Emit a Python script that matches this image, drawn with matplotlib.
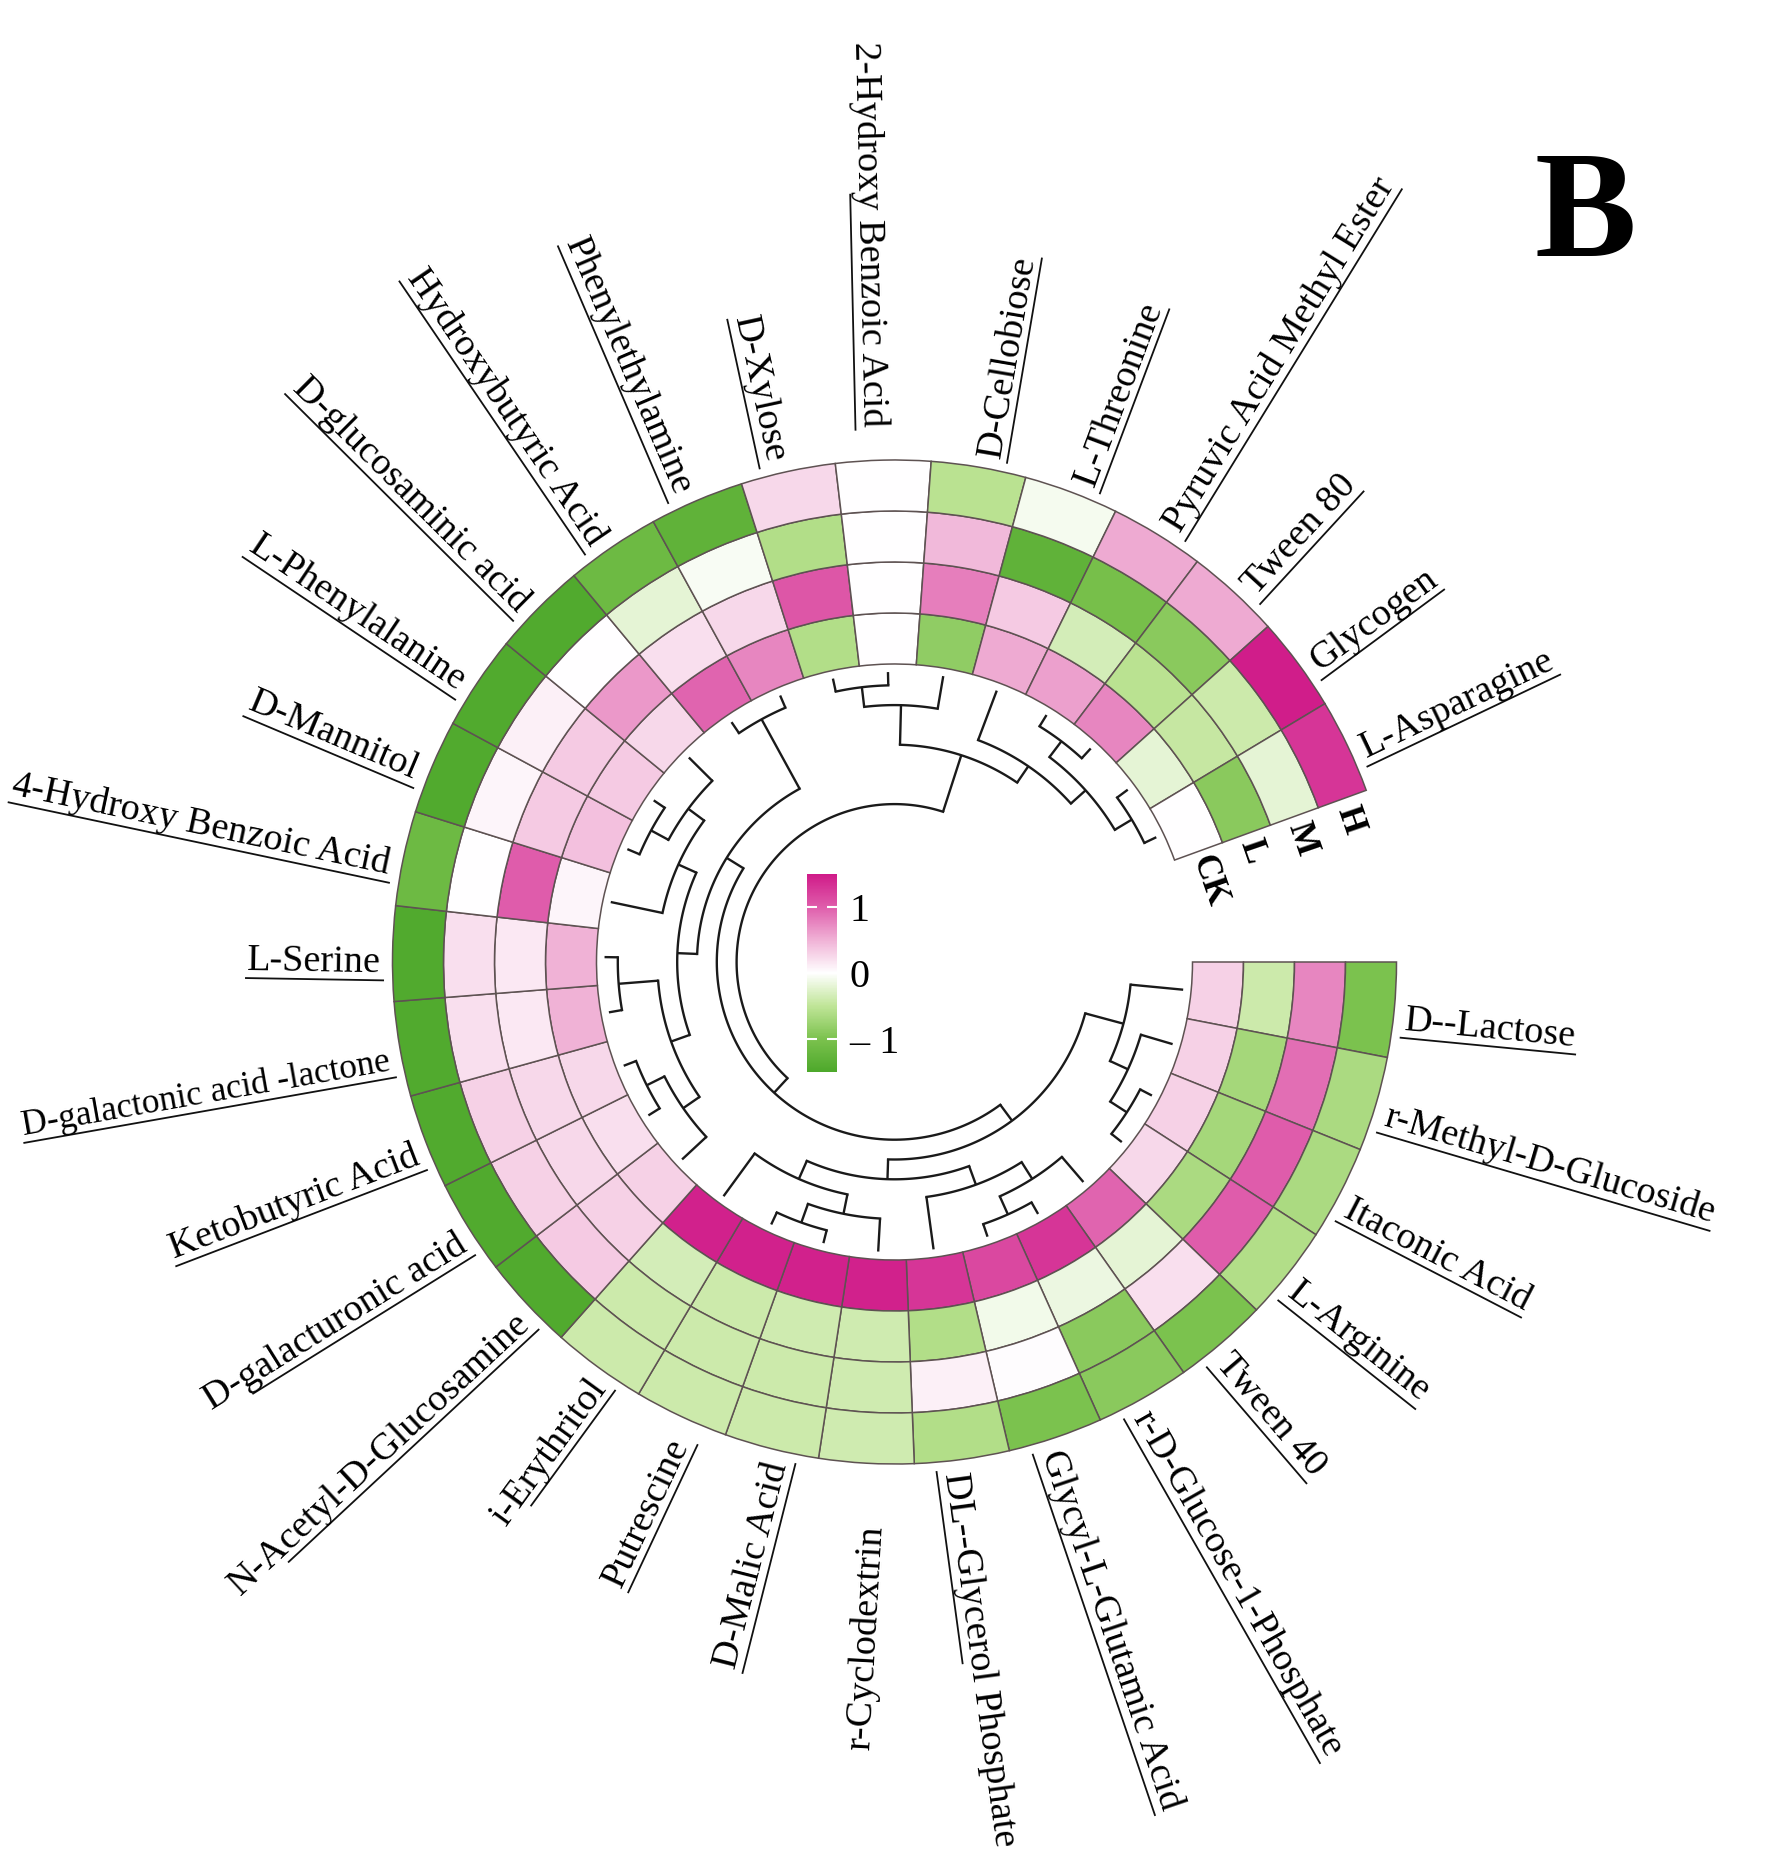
import numpy as np
import matplotlib
matplotlib.use("Agg")
import matplotlib.pyplot as plt
from matplotlib.colors import LinearSegmentedColormap, Normalize
from matplotlib.cm import ScalarMappable
from matplotlib.textpath import TextPath
from matplotlib.font_manager import FontProperties

plt.rcParams['font.family'] = ['Liberation Serif', 'DejaVu Serif']

# carbon sources, clockwise from the gap
substrates = ["D--Lactose", "r-Methyl-D-Glucoside", "Itaconic Acid", "L-Arginine",
              "Tween 40", "r-D-Glucose-1-Phosphate", "Glycyl-L-Glutamic Acid",
              "DL--Glycerol Phosphate", "r-Cyclodextrin", "D-Malic Acid", "Putrescine",
              "i-Erythritol", "N-Acetyl-D-Glucosamine", "D-galacturonic acid",
              "Ketobutyric Acid", "D-galactonic acid -lactone", "L-Serine",
              "4-Hydroxy Benzoic Acid", "D-Mannitol", "L-Phenylalanine",
              "D-glucosaminic acid", "Hydroxybutyric Acid", "Phenylethylamine",
              "D-Xylose", "2-Hydroxy Benzoic Acid", "D-Cellobiose", "L-Threonine",
              "Pyruvic Acid Methyl Ester", "Tween 80", "Glycogen", "L-Asparagine"]
groups = ["CK", "L", "M", "H"]

# scaled values, one list per ring (inner -> outer)
ck = [0.3, 0.3, 0.3, 0.25, 0.95, 1.3, 1.15, 1.3, 1.45, 1.45, 1.45, 1.45, 0.3, 0.2, 0.25, 0.5,
      0.5, 0.07, 0.4, 0.35, 0.25, 0.95, 0.75, -0.6, 0.0, -0.85, 0.55, 0.6, 0.75, -0.2, 0.0]
low = [-0.4, -0.7, -0.7, -0.65, -0.2, -0.15, -0.1, -0.6, -0.38, -0.38, -0.4, -0.35, 0.3, 0.25,
       0.25, 0.15, 0.15, 1.0, 0.35, 0.35, 0.65, 0.2, 0.25, 1.05, 0.0, 0.8, 0.35, -0.35, -0.55,
       -0.45, -0.9]
mid = [0.75, 0.9, 1.0, 1.0, 0.2, -0.9, 0.02, 0.1, -0.38, -0.4, -0.4, -0.4, 0.35, 0.3, 0.3, 0.2,
       0.2, 0.0, 0.07, 0.1, 0.0, -0.2, -0.05, -0.6, 0.0, 0.45, -1.3, -1.05, -0.9, -0.4, -0.2]
high = [-1.0, -0.65, -0.65, -0.6, -1.0, -0.9, -1.0, -0.6, -0.38, -0.4, -0.4, -0.4, -1.45, -1.45,
        -1.45, -1.45, -1.45, -1.15, -1.45, -1.45, -1.45, -1.15, -1.3, 0.25, 0.0, -0.55, -0.08,
        0.55, 0.55, 1.48, 1.3]

# clustering of the substrates (indices into substrates)
tree = ((((23, 24), 25), (26, ((27, 28), (29, 30)))),
        (((21, 22), (((20, (18, 19)), 17), ((15, 16), ((13, 14), 12)))),
         ((0, (1, (2, 3))), ((11, (8, (9, 10))), (7, (4, (5, 6)))))))

cbar_ticks = [-1, 0, 1]
cbar_labels = ["\u2013 1", "0", "1"]

# ---- layout (pixels) ----
W, H = 1775, 1864
CX, CY = 894.5, 962
RMAX = 700
R_IN, RING_W = 298, 51
R_TIP = 290
R_NODE0, NODE_STEP = 296.5, 19.8
GAP = 20.0
R_LABEL = 514
D_BASE, D_UL = 19, 27
FS = 27.5

underline_part = {"DL--Glycerol Phosphate": 0.5, "r-Cyclodextrin": 0.0, "i-Erythritol": 0.8,
                  "2-Hydroxy Benzoic Acid": 0.6, "N-Acetyl-D-Glucosamine": 0.85,
                  "D-galacturonic acid": 0.85}
label_shift = {"r-Cyclodextrin": 50, "Putrescine": 10, "2-Hydroxy Benzoic Acid": 22}
label_size = {"D-galactonic acid -lactone": 25.5}

cmap = LinearSegmentedColormap.from_list(
    "gw_m", ["#4DA82B", "#7CC24E", "#C0E598", "#FFFFFF", "#F0B2D6", "#DF5DAB", "#D01B89"])
norm = Normalize(-1.5, 1.5)

fig = plt.figure(figsize=(W / 100, H / 100), dpi=100)
ax = fig.add_axes([(CX - RMAX) / W, 1 - (CY + RMAX) / H, 2 * RMAX / W, 2 * RMAX / H],
                  projection='polar')
ax.set_theta_zero_location('E')
ax.set_theta_direction(-1)
ax.set_ylim(0, RMAX)
ax.set_axis_off()

n = len(substrates)
w = np.deg2rad((360 - GAP) / n)
theta = (np.arange(n) + 0.5) * w

# heatmap rings
for i, vals in enumerate([ck, low, mid, high]):
    ax.bar(theta, RING_W, width=w, bottom=R_IN + i * RING_W, color=cmap(norm(np.array(vals))),
           edgecolor='#5E5252', linewidth=1.1, align='center')


# dendrogram
def node_r(h):
    return R_NODE0 - NODE_STEP * h


def draw(node):
    if isinstance(node, int):
        return theta[node], 0, True
    a = draw(node[0])
    b = draw(node[1])
    h = 1 + max(a[1], b[1])
    r = node_r(h)
    for th, hc, leaf in (a, b):
        ax.plot([th, th], [r, R_TIP if leaf else node_r(hc)], color='#1A1A1A', lw=1.7,
                solid_capstyle='butt')
    ts = np.linspace(a[0], b[0], 120)
    ax.plot(ts, np.full_like(ts, r), color='#1A1A1A', lw=1.7)
    return (a[0] + b[0]) / 2, h, False


draw(tree)

# labels
for k, name in enumerate(substrates):
    right = np.cos(theta[k]) >= 0
    sign = 1 if right else -1
    phi = -np.rad2deg(theta[k])
    rot = phi if right else phi + 180
    r0 = R_LABEL + label_shift.get(name, 0)
    fs = label_size.get(name, FS)
    ax.text(theta[k] + sign * np.arctan2(D_BASE, r0), np.hypot(r0, D_BASE), name,
            rotation=rot, rotation_mode='anchor', ha='left' if right else 'right',
            va='baseline', fontsize=fs)
    fp = FontProperties(family='Liberation Serif', size=fs)
    length = TextPath((0, 0), name, prop=fp).get_extents().width * 100 / 72
    part = underline_part.get(name, 1.0)
    if part > 0:
        s = np.linspace(r0 - 3, r0 + part * length + 3, 30)
        ax.plot(theta[k] + sign * np.arctan2(D_UL, s), np.hypot(s, D_UL), color='#111111',
                lw=1.3, clip_on=False)

# ring names in the gap
th_g = np.deg2rad(360 - GAP + 1.0)
for i, g in enumerate(groups):
    ax.text(th_g, R_IN + (i + 0.5) * RING_W, g, rotation=GAP - 1.0 - 90, rotation_mode='anchor',
            ha='left', va='center', fontsize=25, fontweight='bold')

# colour bar
cax = fig.add_axes([807 / W, 1 - 1072 / H, 30 / W, 198 / H])
cb = fig.colorbar(ScalarMappable(norm=norm, cmap=cmap), cax=cax, ticks=cbar_ticks)
cb.outline.set_visible(False)
cb.ax.set_yticklabels(cbar_labels, fontsize=29)
cb.ax.tick_params(direction='in', length=7, width=1.5, color='white', pad=9,
                  left=True, right=True, labelleft=False)

fig.text(1585 / W, 1 - 256 / H, "B", fontsize=110, fontweight='bold', ha='center', va='baseline')

fig.savefig("out.png", dpi=100)
